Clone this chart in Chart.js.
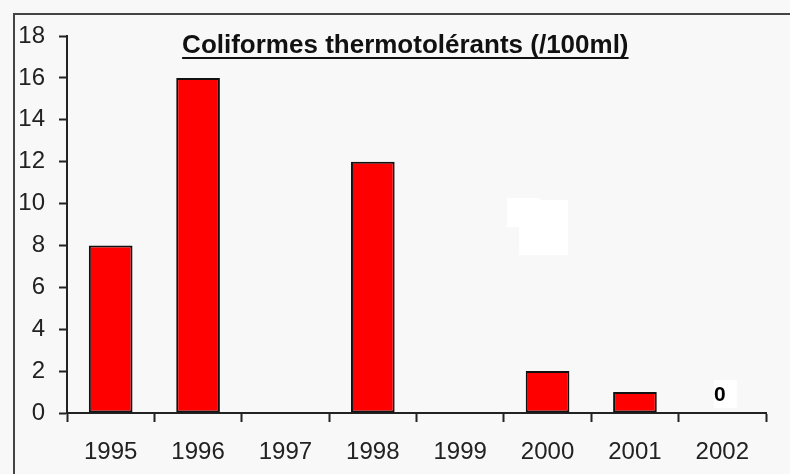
<!DOCTYPE html>
<html>
<head>
<meta charset="utf-8">
<script src="https://cdn.jsdelivr.net/npm/chart.js@4"></script>
<style>
  html, body { margin: 0; padding: 0; background: #f8f8f8; }
  canvas { display: block; }
</style>
</head>
<body>
<canvas id="c" width="790" height="474"></canvas>
<script>
// Yearly thermotolerant coliform counts (per 100 ml)
const years = ['1995', '1996', '1997', '1998', '1999', '2000', '2001', '2002'];
const counts = [8, 16, null, 12, null, 2, 1, 0];
// Values written above bars (only the last year carries a label)
const valueLabels = [null, null, null, null, null, null, null, '0'];
const yMin = 0;
const yMax = 18;
const yStep = 2;
const titleText = 'Coliformes thermotolérants (/100ml)';

const FONT = '"Liberation Sans", Arial, sans-serif';
const INK = '#222';

// Page background plus the frame lines along the top and left edges
const framePlugin = {
  id: 'frame',
  beforeDraw(chart) {
    const ctx = chart.ctx;
    ctx.save();
    ctx.fillStyle = '#f8f8f8';
    ctx.fillRect(0, 0, chart.width, chart.height);
    ctx.strokeStyle = '#444';
    ctx.lineWidth = 2;
    ctx.beginPath();
    ctx.moveTo(chart.width, 14);
    ctx.lineTo(14, 14);
    ctx.lineTo(14, chart.height);
    ctx.stroke();
    // faint white patches left in the plot around the 2000 column
    const xs = chart.scales.x, ys = chart.scales.y;
    const cx = xs.getPixelForValue(5);
    const y10 = ys.getPixelForValue(10);
    ctx.fillStyle = '#ffffff';
    ctx.fillRect(cx - 40.5, y10 - 5.5, 33, 29);
    ctx.fillRect(cx - 28.5, y10 - 3.5, 49, 55);
    ctx.restore();
  }
};

// Underlined bold title inside the plot area
const titlePlugin = {
  id: 'underlinedTitle',
  afterDraw(chart) {
    const ctx = chart.ctx;
    const area = chart.chartArea;
    const cx = area.left + area.width * 0.484;
    const baseline = 53;
    ctx.save();
    ctx.font = 'bold 26px ' + FONT;
    ctx.fillStyle = '#111';
    ctx.textAlign = 'center';
    ctx.textBaseline = 'alphabetic';
    ctx.fillText(titleText, cx, baseline);
    const w = ctx.measureText(titleText).width;
    ctx.fillRect(cx - w / 2, baseline + 4, w, 2);
    ctx.restore();
  }
};

// Boxed value labels above bars
const valueLabelPlugin = {
  id: 'valueLabels',
  afterDatasetsDraw(chart) {
    const ctx = chart.ctx;
    const meta = chart.getDatasetMeta(0);
    ctx.save();
    valueLabels.forEach((txt, i) => {
      if (txt === null) return;
      const bar = meta.data[i];
      const x = bar.x;
      const y = chart.scales.y.getPixelForValue(counts[i]);
      ctx.fillStyle = '#ffffff';
      ctx.fillRect(x - 8.5, y - 33, 23, 28);
      ctx.fillStyle = '#000';
      ctx.font = 'bold 21px ' + FONT;
      ctx.textAlign = 'center';
      ctx.textBaseline = 'middle';
      ctx.fillText(txt, x - 2.5, y - 18);
    });
    ctx.restore();
  }
};

new Chart(document.getElementById('c'), {
  type: 'bar',
  data: {
    labels: years,
    datasets: [{
      data: counts,
      backgroundColor: '#ff0000',
      borderColor: '#111',
      borderWidth: 2,
      borderSkipped: false,
      categoryPercentage: 1,
      barPercentage: 0.5
    }]
  },
  options: {
    responsive: false,
    devicePixelRatio: 1,
    animation: false,
    layout: { padding: { left: 0, top: 36, right: 24, bottom: 0 } },
    plugins: {
      legend: { display: false },
      tooltip: { enabled: false },
      title: { display: false }
    },
    scales: {
      x: {
        offset: true,
        grid: {
          offset: true,
          drawOnChartArea: false,
          drawTicks: true,
          tickLength: 9,
          tickWidth: 2,
          color: INK
        },
        border: { display: true, color: INK, width: 2 },
        ticks: {
          color: INK,
          font: { family: FONT, size: 24 },
          padding: 16,
          maxRotation: 0,
          autoSkip: false
        },
        afterFit(scale) { scale.height = 61; }
      },
      y: {
        min: yMin,
        max: yMax,
        grid: {
          drawOnChartArea: false,
          drawTicks: true,
          tickLength: 8,
          tickWidth: 2,
          color: INK
        },
        border: { display: true, color: INK, width: 2 },
        ticks: {
          stepSize: yStep,
          color: INK,
          font: { family: FONT, size: 24 },
          padding: 14
        },
        afterFit(scale) { scale.width = 67; }
      }
    }
  },
  plugins: [framePlugin, titlePlugin, valueLabelPlugin]
});
</script>
</body>
</html>
